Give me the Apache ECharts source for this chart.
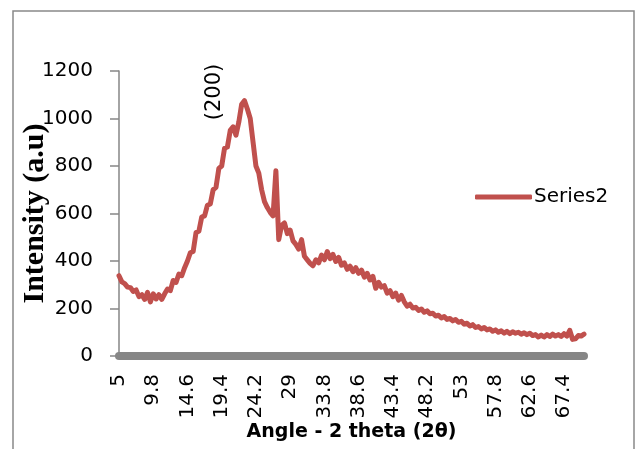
<!DOCTYPE html>
<html>
<head>
<meta charset="utf-8">
<script src="https://cdn.jsdelivr.net/npm/echarts@6/dist/echarts.min.js"></script>
<style>
  html, body { margin: 0; padding: 0; background: #fff; }
  #chart { width: 638px; height: 449px; }
</style>
</head>
<body>
<div id="chart"></div>
<script>
// 2 theta from 5 to 70.2, step 0.4
var angles = [];
for (var i = 0; i < 164; i++) {
    angles.push(String(Math.round((5 + i * 0.4) * 10) / 10));
}

// intensity
var intensity = [
    338, 312, 305, 290, 288, 272, 278, 250, 258, 238,
    268, 228, 262, 240, 258, 238, 262, 282, 275, 318,
    310, 345, 338, 372, 400, 435, 440, 520, 525, 585,
    590, 635, 640, 700, 710, 790, 800, 875, 880, 950,
    965, 930, 985, 1060, 1075, 1040, 1000, 900, 800, 770,
    700, 650, 625, 605, 590, 780, 490, 550, 560, 515,
    530, 485, 470, 450, 490, 420, 405, 390, 380, 405,
    392, 425, 405, 440, 410, 428, 398, 415, 382, 392,
    365, 378, 355, 372, 348, 362, 332, 348, 320, 335,
    285, 310, 290, 296, 265, 275, 250, 265, 235, 255,
    228, 210, 218, 202, 205, 192, 198, 184, 190, 178,
    180, 168, 172, 160, 166, 154, 158, 148, 154, 142,
    146, 134, 138, 126, 132, 120, 124, 114, 120, 110,
    114, 104, 110, 100, 106, 96, 104, 94, 102, 96,
    100, 92, 98, 90, 96, 86, 90, 80, 88, 80,
    90, 82, 92, 84, 90, 82, 94, 84, 108, 70,
    72, 86, 84, 92
];

var yTicks = [0, 200, 400, 600, 800, 1000, 1200];
var seriesName = "Series2";
var peakLabel = "(200)";

var chart = echarts.init(document.getElementById("chart"));
chart.setOption({
    animation: false,
    backgroundColor: "#fff",
    textStyle: {fontFamily: "DejaVu Sans"},
    grid: {left: 119, right: 54, top: 71, bottom: 93, outerBoundsMode: "none", containLabel: false},
    legend: {
        left: 470,
        top: 182,
        itemWidth: 57,
        itemHeight: 5,
        itemGap: 10,
        textStyle: {fontSize: 20, color: "#000", padding: [0, 0, 0, -3]},
        data: [{name: seriesName, icon: "roundRect"}]
    },
    xAxis: {
        type: "category",
        data: angles,
        boundaryGap: false,
        offset: 3,
        axisLine: {lineStyle: {color: "#868686", width: 8}},
        axisTick: {show: false},
        axisLabel: {interval: 11, rotate: 90, margin: 15, fontSize: 20, color: "#000"},
        name: "Angle - 2 theta (2θ)",
        nameLocation: "middle",
        nameGap: 64,
        nameMoveOverlap: false,
        nameTextStyle: {fontSize: 19, fontWeight: "bold", color: "#000"}
    },
    yAxis: {
        type: "value",
        min: yTicks[0],
        max: yTicks[yTicks.length - 1],
        interval: 200,
        splitLine: {show: false},
        axisLine: {show: true, lineStyle: {color: "#868686", width: 1.5}},
        axisTick: {show: true, length: 9, lineStyle: {color: "#868686", width: 1.5}},
        axisLabel: {margin: 26, fontSize: 20, color: "#000", formatter: function (v) { return String(v); }},
        name: "Intensity (a.u)",
        nameLocation: "middle",
        nameRotate: 90,
        nameGap: 69,
        nameMoveOverlap: false,
        nameTextStyle: {fontSize: 30, fontWeight: "bold", color: "#000", fontFamily: "Liberation Serif"}
    },
    graphic: [
        {
            type: "rect",
            shape: {x: 13, y: 11, width: 621, height: 460},
            style: {fill: "none", stroke: "#898989", lineWidth: 1.5},
            silent: true
        },
        {
            type: "text",
            x: 215,
            y: 92,
            rotation: Math.PI / 2,
            style: {text: peakLabel, fontSize: 21, fill: "#000", align: "center", verticalAlign: "middle", fontFamily: "DejaVu Sans"}
        }
    ],
    series: [{
        name: seriesName,
        type: "line",
        data: intensity,
        symbol: "none",
        color: "#C0504D",
        lineStyle: {width: 5, color: "#C0504D", cap: "round", join: "round"}
    }]
});
</script>
</body>
</html>
